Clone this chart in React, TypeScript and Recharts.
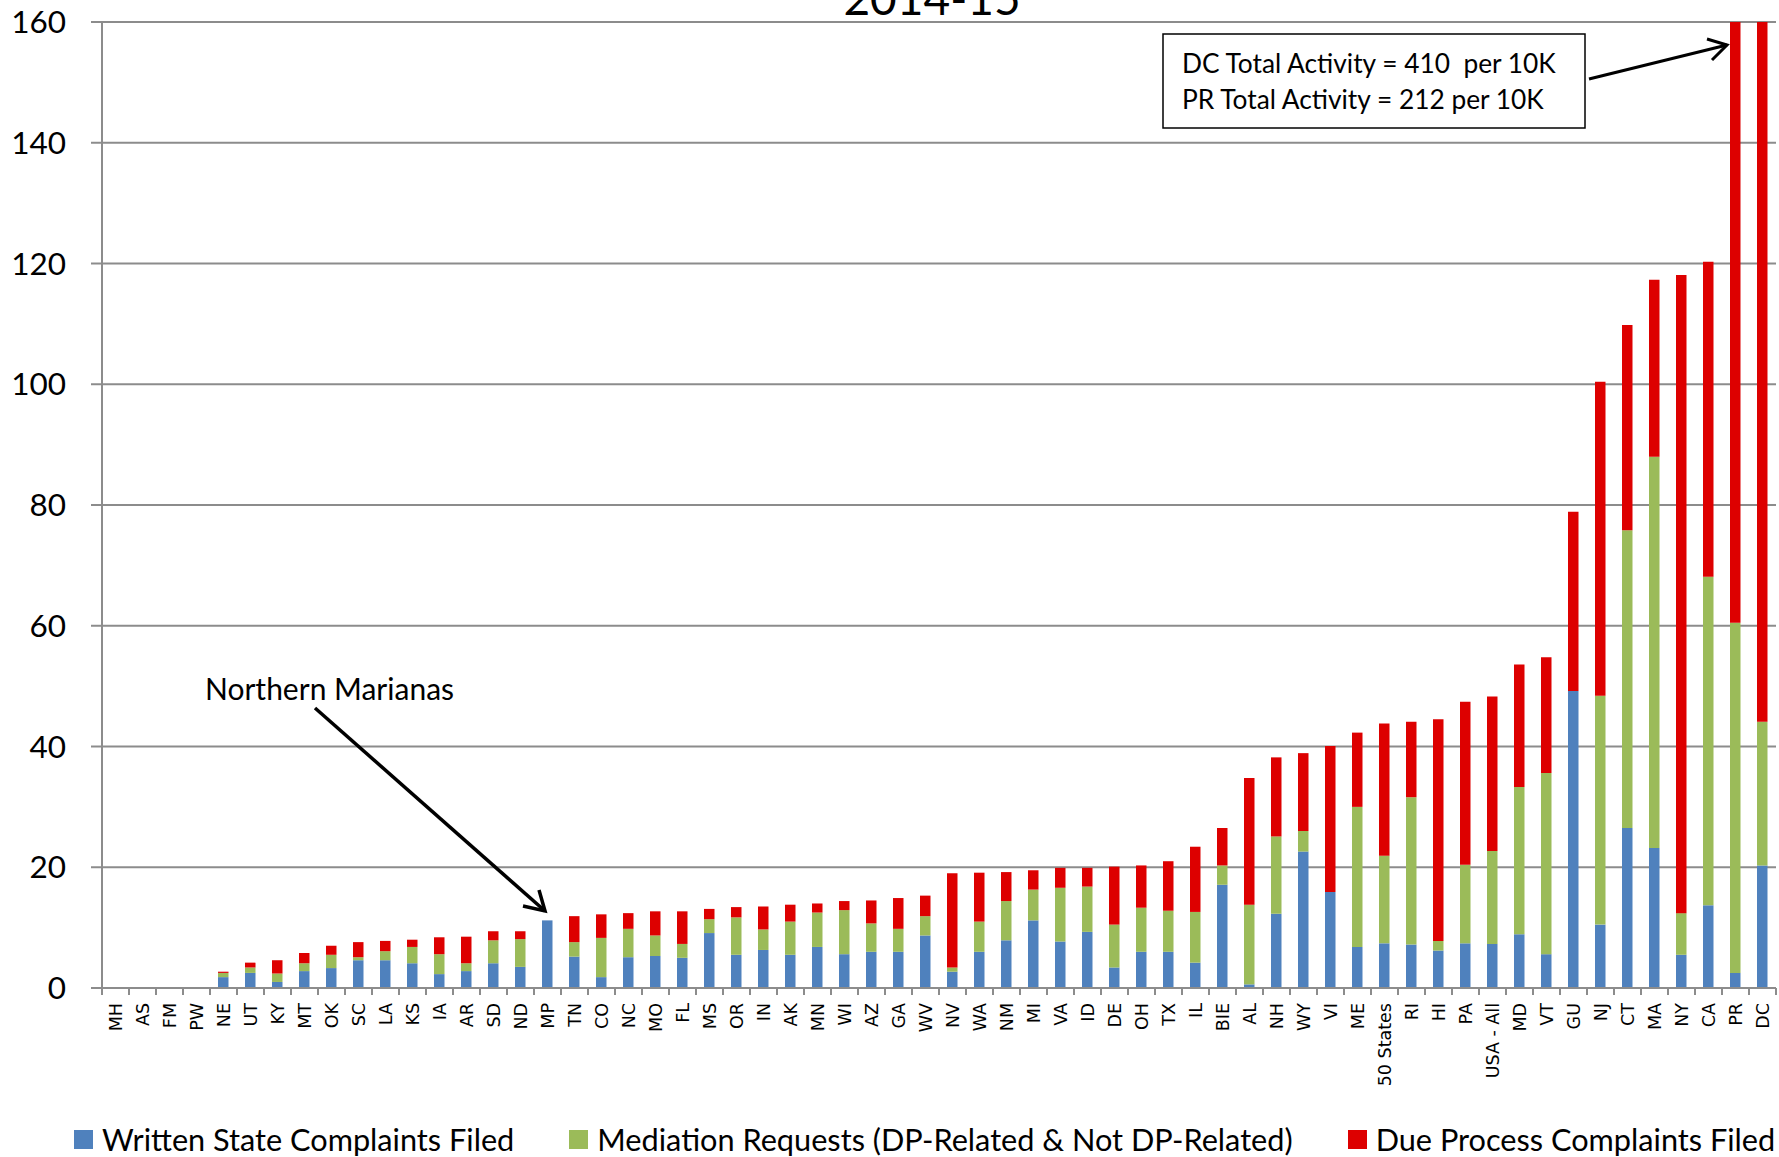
import React from 'react';
import { BarChart, Bar, XAxis, YAxis, CartesianGrid, Legend } from 'recharts';

const categories = ['MH','AS','FM','PW','NE','UT','KY','MT','OK','SC','LA','KS','IA','AR','SD','ND','MP','TN','CO','NC','MO','FL','MS','OR','IN','AK','MN','WI','AZ','GA','WV','NV','WA','NM','MI','VA','ID','DE','OH','TX','IL','BIE','AL','NH','WY','VI','ME','50 States','RI','HI','PA','USA - All','MD','VT','GU','NJ','CT','MA','NY','CA','PR','DC'];

const writtenComplaints = [0,0,0,0,1.8,2.5,1.0,2.8,3.3,4.6,4.6,4.1,2.3,2.8,4.1,3.5,11.2,5.2,1.8,5.1,5.3,5.0,9.1,5.5,6.3,5.5,6.8,5.6,6.0,6.0,8.7,2.7,6.0,7.9,11.2,7.7,9.3,3.4,6.0,6.0,4.2,17.1,0.6,12.3,22.6,15.9,6.8,7.4,7.2,6.2,7.4,7.3,8.9,5.6,49.2,10.5,26.5,23.2,5.5,13.7,2.5,20.3];

const mediationRequests = [0,0,0,0,0.7,0.9,1.4,1.3,2.2,0.5,1.5,2.7,3.3,1.3,3.8,4.6,0,2.4,6.5,4.7,3.4,2.3,2.3,6.2,3.4,5.5,5.7,7.3,4.7,3.8,3.2,0.7,5.0,6.5,5.1,8.9,7.5,7.1,7.3,6.8,8.4,3.2,13.2,12.8,3.4,0,23.2,14.5,24.4,1.6,13.0,15.4,24.4,30.0,0,37.9,49.3,64.8,6.9,54.4,58.0,23.8];

const dueProcess = [0,0,0,0,0.2,0.8,2.2,1.7,1.5,2.5,1.7,1.2,2.8,4.4,1.5,1.3,0,4.3,3.9,2.6,4.0,5.4,1.7,1.7,3.8,2.8,1.5,1.5,3.8,5.1,3.4,15.6,8.1,4.8,3.2,3.3,3.1,9.6,7.0,8.2,10.8,6.2,21.0,13.1,12.9,24.2,12.3,21.9,12.5,36.7,27.0,25.6,20.3,19.2,29.7,52.0,34.0,29.3,105.7,52.2,151.5,365.9];

const yTicks = [0, 20, 40, 60, 80, 100, 120, 140, 160];

const seriesNames = ['Written State Complaints Filed', 'Mediation Requests (DP-Related & Not DP-Related)', 'Due Process Complaints Filed'];
const seriesColors = ['#4F81BD', '#9BBB59', '#DD0000'];

const data = categories.map((c, i) => ({
  cat: c,
  written: writtenComplaints[i],
  mediation: mediationRequests[i],
  due: dueProcess[i],
}));

const W = 1779;
const H = 1157;
const Y_AXIS_W = 102;
const RIGHT = 3;
const BAND = (W - Y_AXIS_W - RIGHT) / categories.length;
const GRID = '#8c8c8c';

const XTick = (props: any) => {
  const { x, y, payload, index } = props;
  const half = BAND / 2;
  return (
    <g>
      <line x1={x - half} y1={y} x2={x - half} y2={y + 7} stroke={GRID} strokeWidth={2} />
      {index === categories.length - 1 && (
        <line x1={x + half} y1={y} x2={x + half} y2={y + 7} stroke={GRID} strokeWidth={2} />
      )}
      <text
        transform={`translate(${x},${y + 15}) rotate(-90)`}
        textAnchor="end"
        dy="0.36em"
        fontSize={17.5}
        fontFamily="DejaVu Sans"
        fill="#000"
      >
        {payload.value}
      </text>
    </g>
  );
};

const LegendContent = () => (
  <div
    style={{
      display: 'flex',
      alignItems: 'center',
      height: 36,
      paddingLeft: 74,
      fontFamily: 'Lato',
      fontSize: 30.7,
      color: '#000',
      whiteSpace: 'nowrap',
    }}
  >
    {seriesNames.map((n, i) => (
      <span key={n} style={{ display: 'inline-flex', alignItems: 'center', marginRight: 55 }}>
        <span style={{ display: 'inline-block', width: 19, height: 19, background: seriesColors[i], marginRight: 9 }} />
        {n}
      </span>
    ))}
  </div>
);

export default function App() {
  return (
    <div style={{ position: 'absolute', left: 0, top: 0, width: W, height: H, background: '#fff' }}>
      <BarChart
        width={W}
        height={H}
        data={data}
        margin={{ top: 22, right: RIGHT, bottom: 0, left: 0 }}
        barSize={10.5}
      >
        <CartesianGrid vertical={false} stroke={GRID} strokeWidth={2} />
        <XAxis
          dataKey="cat"
          interval={0}
          height={133}
          tickSize={0}
          tickMargin={0}
          tickLine={false}
          tick={<XTick />}
          axisLine={{ stroke: GRID, strokeWidth: 2 }}
        />
        <YAxis
          width={Y_AXIS_W}
          domain={[0, 160]}
          ticks={yTicks}
          allowDataOverflow
          tickSize={11}
          tickMargin={25}
          tick={{ fontSize: 31.5, fill: '#000', fontFamily: 'Lato' }}
          tickLine={{ stroke: GRID, strokeWidth: 2 }}
          axisLine={{ stroke: GRID, strokeWidth: 2 }}
        />
        <Legend verticalAlign="bottom" align="left" height={36} content={<LegendContent />} />
        <Bar dataKey="written" name={seriesNames[0]} stackId="a" fill={seriesColors[0]} isAnimationActive={false} />
        <Bar dataKey="mediation" name={seriesNames[1]} stackId="a" fill={seriesColors[1]} isAnimationActive={false} />
        <Bar dataKey="due" name={seriesNames[2]} stackId="a" fill={seriesColors[2]} isAnimationActive={false} />
      </BarChart>
      <svg
        width={W}
        height={H}
        style={{ position: 'absolute', left: 0, top: 0, pointerEvents: 'none' }}
      >
        <text x={932} y={15} textAnchor="middle" fontFamily="Lato" fontSize={46} fill="#000">2014-15</text>
        <rect x={1163} y={34} width={422} height={94} fill="#fff" stroke="#000" strokeWidth={1.5} />
        <text x={1182} y={73} fontFamily="Lato" fontSize={26.3} fill="#000" style={{ whiteSpace: 'pre' }}>
          {'DC Total Activity = 410  per 10K'}
        </text>
        <text x={1182} y={109} fontFamily="Lato" fontSize={26.3} fill="#000" style={{ whiteSpace: 'pre' }}>
          {'PR Total Activity = 212 per 10K'}
        </text>
        <line x1={1589} y1={79} x2={1727} y2={45} stroke="#000" strokeWidth={3} />
        <polyline points="1707,39 1727,45 1712,60" fill="none" stroke="#000" strokeWidth={3} />
        <text x={205} y={700} fontFamily="Lato" fontSize={30} fill="#000">Northern Marianas</text>
        <line x1={315} y1={708} x2={545} y2={911} stroke="#000" strokeWidth={3.5} />
        <polyline points="523,906 545,911 539,890" fill="none" stroke="#000" strokeWidth={3.5} />
      </svg>
    </div>
  );
}
